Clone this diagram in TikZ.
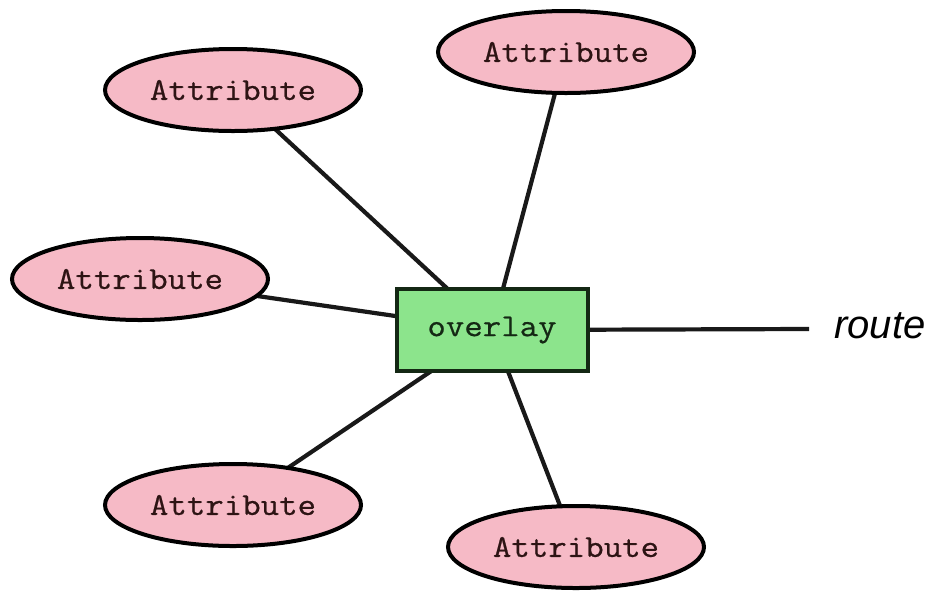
\documentclass[tikz,border=0pt]{standalone}
\usepackage{fontspec}
\setmainfont{Liberation Sans}
\newfontfamily\monofam[FakeStretch=1.12,FakeBold=0.6]{Latin Modern Mono}
\usetikzlibrary{shapes.geometric}
\definecolor{attrpink}{RGB}{246,186,198}
\definecolor{boxgreen}{RGB}{140,228,140}
\definecolor{boxedge}{RGB}{20,40,20}
\definecolor{attrtext}{RGB}{45,20,20}
\tikzset{
  attr/.style={ellipse, draw=black, fill=attrpink, line width=4pt,
    minimum width=256pt, minimum height=82pt, inner sep=0pt,
    font=\monofam\fontsize{32}{34}\selectfont, text=attrtext},
  entity/.style={rectangle, draw=boxedge, fill=boxgreen, line width=4pt,
    minimum width=191pt, minimum height=82pt, inner sep=0pt,
    font=\monofam\fontsize{32}{34}\selectfont, text=boxedge},
  link/.style={line width=4.2pt, draw=black!90}
}
\begin{document}
\begin{tikzpicture}[x=1pt,y=-1pt]
  \useasboundingbox (0,0) rectangle (933,590);
  % links are drawn first so that the shapes cover their ends
  \coordinate (box-c) at (492,330);
  \coordinate (a1-c) at (233,90);
  \coordinate (a2-c) at (566,52);
  \coordinate (a3-c) at (140,279);
  \coordinate (a4-c) at (233,505);
  \coordinate (a5-c) at (576,547);
  \coordinate (routeend) at (809,329);
  \draw[link] (a1-c) -- (box-c);
  \draw[link] (a2-c) -- (box-c);
  \draw[link] (a3-c) -- (box-c);
  \draw[link] (a4-c) -- (box-c);
  \draw[link] (a5-c) -- (box-c);
  \draw[link] (box-c) -- (routeend);
  % shapes
  \node[attr] (a1) at (a1-c) {Attribute};
  \node[attr] (a2) at (a2-c) {Attribute};
  \node[attr] (a3) at (a3-c) {Attribute};
  \node[attr] (a4) at (a4-c) {Attribute};
  \node[attr] (a5) at (a5-c) {Attribute};
  \node[entity] (box) at (box-c) {overlay};
  \node[anchor=base west, inner sep=0pt, font=\itshape\fontsize{40}{42}\selectfont] (route) at (834,338) {route};
\end{tikzpicture}
\end{document}
